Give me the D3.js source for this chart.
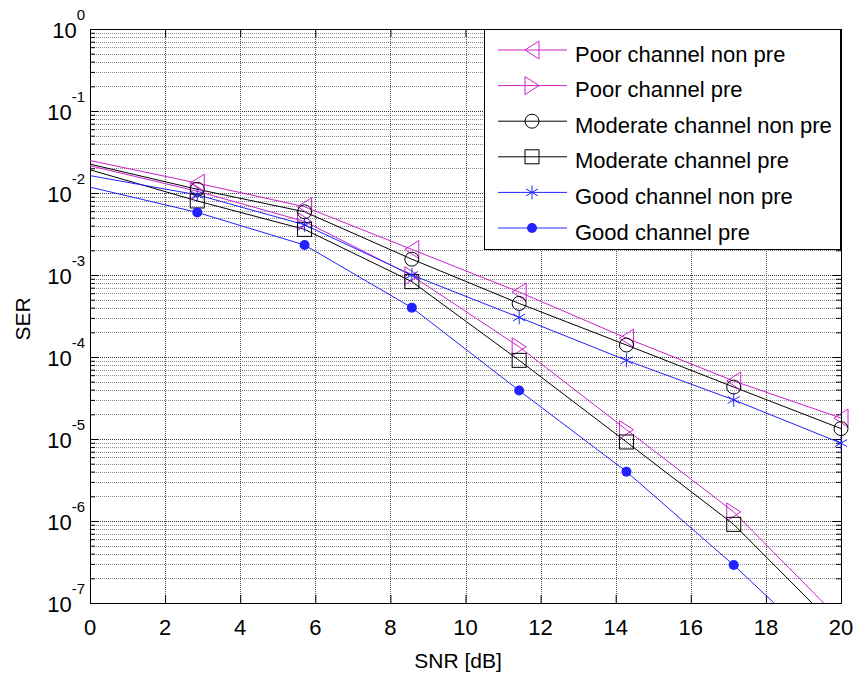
<!DOCTYPE html>
<html>
<head>
<meta charset="utf-8">
<script src="https://cdn.jsdelivr.net/npm/d3@7/dist/d3.min.js"></script>
<style>
  html, body { margin: 0; padding: 0; background: #fff; }
  svg { display: block; font-family: "Liberation Sans", Arial, sans-serif; }
</style>
</head>
<body>
<svg id="chart" width="856" height="677"></svg>
<script>
// SNR sample points (dB)
const snr = [0, 2.857, 5.714, 8.571, 11.429, 14.286, 17.143, 20];

// Symbol error rate per channel condition
const poorNonPre     = [0.0249, 0.0132, 0.0068, 0.00205, 6.2e-4, 1.7e-4, 5.1e-5, 1.8e-5];
const poorPre        = [0.0215, 0.0105, 0.0045, 0.00098, 1.33e-4, 1.3e-5, 1.29e-6, 6.1e-8];
const moderateNonPre = [0.0225, 0.0111, 0.0059, 0.00156, 4.5e-4, 1.4e-4, 4.3e-5, 1.34e-5];
const moderatePre    = [0.0192, 0.0080, 0.0036, 0.00083, 9.1e-5, 9.2e-6, 9.1e-7, 4.4e-8];
const goodNonPre     = [0.0163, 0.0095, 0.0041, 0.0010, 3.04e-4, 9.1e-5, 3.0e-5, 8.9e-6];
const goodPre        = [0.0118, 0.0058, 0.00232, 0.0004, 3.9e-5, 4.0e-6, 2.9e-7, 1.7e-8];

const seriesNames = [
  "Poor channel non pre",
  "Poor channel pre",
  "Moderate channel non pre",
  "Moderate channel pre",
  "Good channel non pre",
  "Good channel pre"
];

// Axis tick values and labels
const xTicks = [0, 2, 4, 6, 8, 10, 12, 14, 16, 18, 20];
const yDecades = [0, -1, -2, -3, -4, -5, -6, -7];

const MAGENTA = "#cc22cc";
const BLUE = "#2222ff";
const BLACK = "#000";

const series = [
  { name: seriesNames[0], values: poorNonPre,     color: MAGENTA, marker: "triLeft" },
  { name: seriesNames[1], values: poorPre,        color: MAGENTA, marker: "triRight" },
  { name: seriesNames[2], values: moderateNonPre, color: BLACK,   marker: "circle" },
  { name: seriesNames[3], values: moderatePre,    color: BLACK,   marker: "square" },
  { name: seriesNames[4], values: goodNonPre,     color: BLUE,    marker: "star" },
  { name: seriesNames[5], values: goodPre,        color: BLUE,    marker: "dot" }
];

const svg = d3.select("#chart");
const plotL = 90, plotR = 841, plotT = 29, plotB = 603;

const x = d3.scaleLinear().domain([0, 20]).range([plotL, plotR]);
const y = d3.scaleLog().domain([1e-7, 1]).range([plotB, plotT]);

// Grid lines
const grid = svg.append("g");
const minorVals = [];
yDecades.forEach(e => {
  if (e >= 0) return;
  for (let m = 2; m <= 9; m++) minorVals.push(m * Math.pow(10, e));
});
grid.selectAll(".ymin").data(minorVals).enter().append("line")
  .attr("x1", plotL).attr("x2", plotR)
  .attr("y1", d => Math.round(y(d)) + 0.5).attr("y2", d => Math.round(y(d)) + 0.5)
  .attr("stroke", "#8a8a8a").attr("stroke-width", 1).attr("stroke-dasharray", "1,1");
grid.selectAll(".ymaj").data(yDecades.map(e => Math.pow(10, e))).enter().append("line")
  .attr("x1", plotL).attr("x2", plotR)
  .attr("y1", d => Math.round(y(d)) + 0.5).attr("y2", d => Math.round(y(d)) + 0.5)
  .attr("stroke", "#333").attr("stroke-width", 1).attr("stroke-dasharray", "1,1");
grid.selectAll(".xg").data(xTicks).enter().append("line")
  .attr("x1", d => Math.round(x(d)) + 0.5).attr("x2", d => Math.round(x(d)) + 0.5)
  .attr("y1", plotT).attr("y2", plotB)
  .attr("stroke", "#555").attr("stroke-width", 1).attr("stroke-dasharray", "1,1");

// Axes with inward ticks (bottom/left labelled, top/right bare)
const fmtNone = () => "";
const majorY = yDecades.map(e => Math.pow(10, e));
const axB = svg.append("g").attr("transform", `translate(0,${plotB})`)
  .call(d3.axisBottom(x).tickValues(xTicks).tickSizeInner(-8).tickSizeOuter(0).tickFormat(fmtNone));
const axT = svg.append("g").attr("transform", `translate(0,${plotT})`)
  .call(d3.axisTop(x).tickValues(xTicks).tickSizeInner(-8).tickSizeOuter(0).tickFormat(fmtNone));
const axL = svg.append("g").attr("transform", `translate(${plotL},0)`)
  .call(d3.axisLeft(y).tickValues(majorY).tickSizeInner(-8).tickSizeOuter(0).tickFormat(fmtNone));
const axR = svg.append("g").attr("transform", `translate(${plotR},0)`)
  .call(d3.axisRight(y).tickValues(majorY).tickSizeInner(-8).tickSizeOuter(0).tickFormat(fmtNone));
const axLm = svg.append("g").attr("transform", `translate(${plotL},0)`)
  .call(d3.axisLeft(y).tickValues(minorVals).tickSizeInner(-5).tickSizeOuter(0).tickFormat(fmtNone));
const axRm = svg.append("g").attr("transform", `translate(${plotR},0)`)
  .call(d3.axisRight(y).tickValues(minorVals).tickSizeInner(-5).tickSizeOuter(0).tickFormat(fmtNone));
[axB, axT, axL, axR, axLm, axRm].forEach(g => {
  g.select(".domain").attr("stroke", "#000");
  g.selectAll(".tick line").attr("stroke", "#000");
  g.selectAll("text").remove();
});

// Tick labels
svg.append("g").selectAll("text").data(xTicks).enter().append("text")
  .attr("x", d => x(d)).attr("y", 635)
  .attr("text-anchor", "middle").attr("font-size", 22).attr("fill", "#000")
  .text(d => d);

const yl = svg.append("g").selectAll("text").data(yDecades).enter().append("text")
  .attr("x", 85).attr("y", d => y(Math.pow(10, d)) + 9)
  .attr("text-anchor", "end").attr("fill", "#000").attr("font-size", 22);
yl.append("tspan").text("10");
yl.append("tspan").attr("font-size", 15).attr("dy", -18).text(d => d === 0 ? "0" : "-" + Math.abs(d));

// Axis titles
svg.append("text").attr("x", 458).attr("y", 668).attr("text-anchor", "middle")
  .attr("font-size", 21).text("SNR [dB]");
svg.append("text").attr("transform", "translate(30,319) rotate(-90)").attr("text-anchor", "middle")
  .attr("font-size", 21).text("SER");

// Marker drawing
function drawMarker(g, type, color) {
  switch (type) {
    case "triLeft":
      g.append("path").attr("d", "M-7,0 L7,-9 L7,9 Z").attr("fill", "none").attr("stroke", color).attr("stroke-width", 1);
      break;
    case "triRight":
      g.append("path").attr("d", "M7,0 L-7,-9 L-7,9 Z").attr("fill", "none").attr("stroke", color).attr("stroke-width", 1);
      break;
    case "circle":
      g.append("circle").attr("r", 7).attr("fill", "none").attr("stroke", color).attr("stroke-width", 1);
      break;
    case "square":
      g.append("rect").attr("x", -7).attr("y", -7).attr("width", 14).attr("height", 14)
        .attr("fill", "none").attr("stroke", color).attr("stroke-width", 1);
      break;
    case "star": {
      const r = 7, c = Math.cos(Math.PI / 6) * r, s = Math.sin(Math.PI / 6) * r;
      g.append("path").attr("d", `M0,${-r} L0,${r} M${-c},${-s} L${c},${s} M${-c},${s} L${c},${-s}`)
        .attr("fill", "none").attr("stroke", color).attr("stroke-width", 1);
      break;
    }
    case "dot":
      g.append("circle").attr("r", 5).attr("fill", color).attr("stroke", "none");
      break;
  }
}

// Curves, clipped to the axes box
svg.append("clipPath").attr("id", "plotclip").append("rect")
  .attr("x", plotL).attr("y", plotT).attr("width", plotR - plotL).attr("height", plotB - plotT);

const line = d3.line().x(d => x(d[0])).y(d => y(d[1]));
const plot = svg.append("g");
series.forEach(s => {
  const pts = snr.map((v, i) => [v, s.values[i]]);
  plot.append("path").datum(pts).attr("d", line)
    .attr("fill", "none").attr("stroke", s.color).attr("stroke-width", 1)
    .attr("clip-path", "url(#plotclip)");
});
series.forEach(s => {
  snr.forEach((v, i) => {
    if (v === 0) return;
    const val = s.values[i];
    if (val < 1e-7) return;
    const g = plot.append("g").attr("transform", `translate(${x(v)},${y(val)})`);
    drawMarker(g, s.marker, s.color);
  });
});

// Legend
const lg = svg.append("g");
lg.append("rect").attr("x", 484.5).attr("y", 29.5).attr("width", 356).attr("height", 220)
  .attr("fill", "#fff").attr("stroke", "#000").attr("stroke-width", 1);
const rowY = d3.scaleLinear().domain([0, 5]).range([50, 228]);
series.forEach((s, i) => {
  const yy = rowY(i);
  lg.append("line").attr("x1", 498).attr("x2", 567).attr("y1", yy).attr("y2", yy)
    .attr("stroke", s.color).attr("stroke-width", 1);
  drawMarker(lg.append("g").attr("transform", `translate(532,${yy})`), s.marker, s.color);
  lg.append("text").attr("x", 575).attr("y", yy + 11.5).attr("font-size", 22).attr("fill", "#000").text(s.name);
});
</script>
</body>
</html>
